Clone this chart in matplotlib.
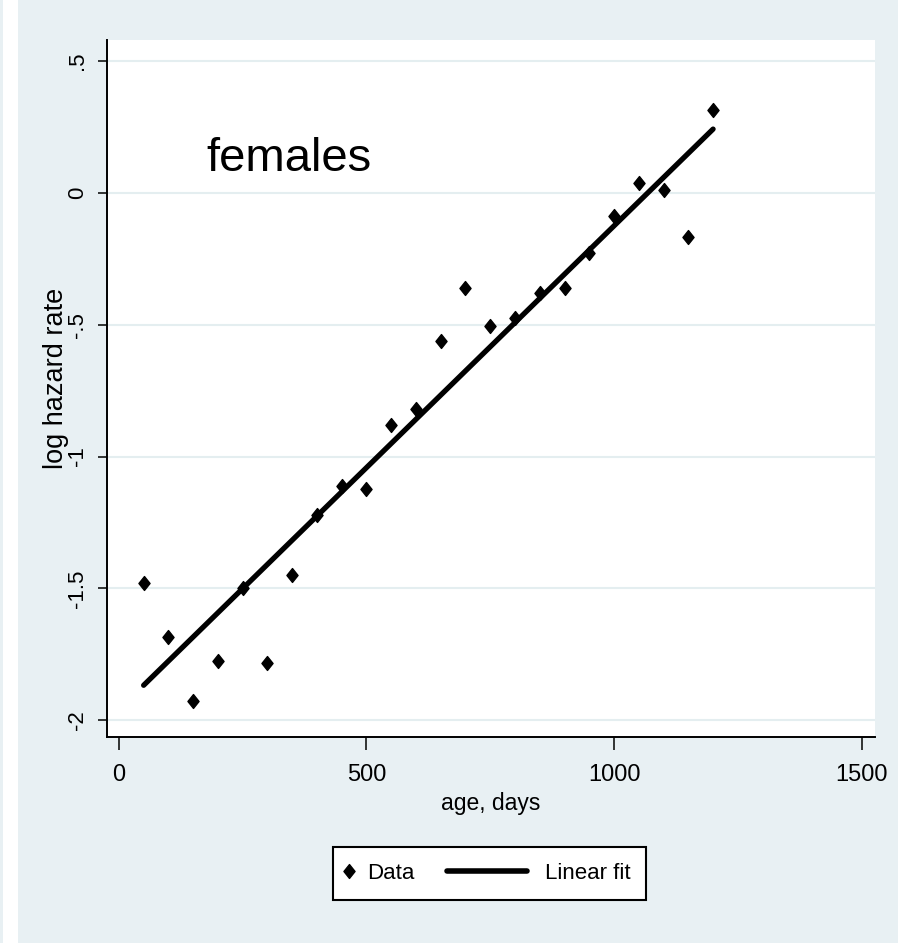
import numpy as np
import matplotlib
matplotlib.use("Agg")
import matplotlib.pyplot as plt
from matplotlib.lines import Line2D
from matplotlib.path import Path
from matplotlib.legend_handler import HandlerLine2D

# valores
edad = [50, 100, 150, 200, 250, 300, 350, 400, 450, 500, 550, 600,
        650, 700, 750, 800, 850, 900, 950, 1000, 1050, 1100, 1150, 1200]
log_hazard = [-1.478, -1.683, -1.927, -1.775, -1.497, -1.784, -1.45, -1.22,
              -1.11, -1.125, -0.879, -0.819, -0.563, -0.361, -0.504, -0.475,
              -0.38, -0.361, -0.227, -0.087, 0.038, 0.011, -0.167, 0.314]
xticks = [0, 500, 1000, 1500]
yticks = [-2, -1.5, -1, -0.5, 0, 0.5]
ytick_labels = ["-2", "-1.5", "-1", "-.5", "0", ".5"]

FONDO = "#e8f0f3"
REJILLA = "#e4eef0"
FUENTE = ["Liberation Sans", "DejaVu Sans"]

# ajuste lineal de los datos
pend, orig = np.polyfit(edad, log_hazard, 1)
x_fit = np.array([min(edad), max(edad)])
y_fit = orig + pend * x_fit

# rombo algo más alto que ancho, como en Stata
rombo = Path([(0, 1), (0.8, 0), (0, -1), (-0.8, 0), (0, 1)],
             [Path.MOVETO, Path.LINETO, Path.LINETO, Path.LINETO, Path.CLOSEPOLY])

fig = plt.figure(figsize=(8.98, 9.43), dpi=100, facecolor="white")
fig.patches.append(plt.Rectangle((18 / 898, 0), 1, 1, transform=fig.transFigure,
                                 facecolor=FONDO, edgecolor="none", zorder=-10))
fig.patches.append(plt.Rectangle((0, 0), 3 / 898, 1, transform=fig.transFigure,
                                 facecolor=FONDO, edgecolor="none", zorder=-10))

ax = fig.add_axes([107 / 898, 1 - 737 / 943, 768 / 898, 697 / 943])
ax.set_facecolor("white")
ax.set_xlim(-24, 1527)
ax.set_ylim(-2.064, 0.58)

for s in ["top", "right"]:
    ax.spines[s].set_visible(False)
for s in ["left", "bottom"]:
    ax.spines[s].set_linewidth(1.4)
    ax.spines[s].set_color("black")

ax.set_yticks(yticks)
ax.set_yticklabels(ytick_labels, family=FUENTE, fontsize=16, rotation=90, va="center")
ax.set_xticks(xticks)
ax.set_xticklabels([str(t) for t in xticks], family=FUENTE, fontsize=17)
ax.tick_params(axis="x", length=9.4, width=1.1, pad=10, colors="black")
ax.tick_params(axis="y", length=6.5, width=1.1, pad=7, colors="black")
ax.grid(axis="y", color=REJILLA, linewidth=1.5)
ax.set_axisbelow(True)

ax.set_xlabel("age, days", family=FUENTE, fontsize=16.5)
ax.xaxis.set_label_coords(0.499, -0.095)
ax.xaxis.label.set_va("center")
ax.set_ylabel("log hazard rate", family=FUENTE, fontsize=19.5)
ax.yaxis.set_label_coords(-0.066, 0.515)
ax.yaxis.label.set_va("center")

datos, = ax.plot(edad, log_hazard, linestyle="none", marker=rombo,
                 markersize=10, color="black", label="Data")
ajuste, = ax.plot(x_fit, y_fit, color="black", linewidth=3.8,
                  solid_capstyle="round", label="Linear fit")

ax.text(176, 0.083, "females", family=FUENTE, fontsize=34, va="baseline")


class LineaLarga(HandlerLine2D):
    """La línea del ajuste se alarga hacia la izquierda, como en Stata."""
    def create_artists(self, legend, orig_handle, xdescent, ydescent,
                       width, height, fontsize, trans):
        extra = 3.58 * fontsize
        y = (height - ydescent) / 2
        ln = Line2D([-xdescent - extra, width - xdescent], [y, y],
                    color="black", linewidth=4, solid_capstyle="round")
        ln.set_transform(trans)
        return [ln]


leg = ax.legend([datos, ajuste], ["Data", "Linear fit"], ncol=2,
                loc="center", bbox_to_anchor=(489.5 / 898, 1 - 873.5 / 943),
                bbox_transform=fig.transFigure, handler_map={ajuste: LineaLarga()},
                prop={"family": FUENTE, "size": 16}, numpoints=1,
                handlelength=0.05, handletextpad=0.78, columnspacing=5.04,
                borderpad=0.7, fancybox=False, framealpha=1, edgecolor="black")
leg.get_frame().set_linewidth(1.5)

fig.savefig("out.png", dpi=100, facecolor=fig.get_facecolor())
